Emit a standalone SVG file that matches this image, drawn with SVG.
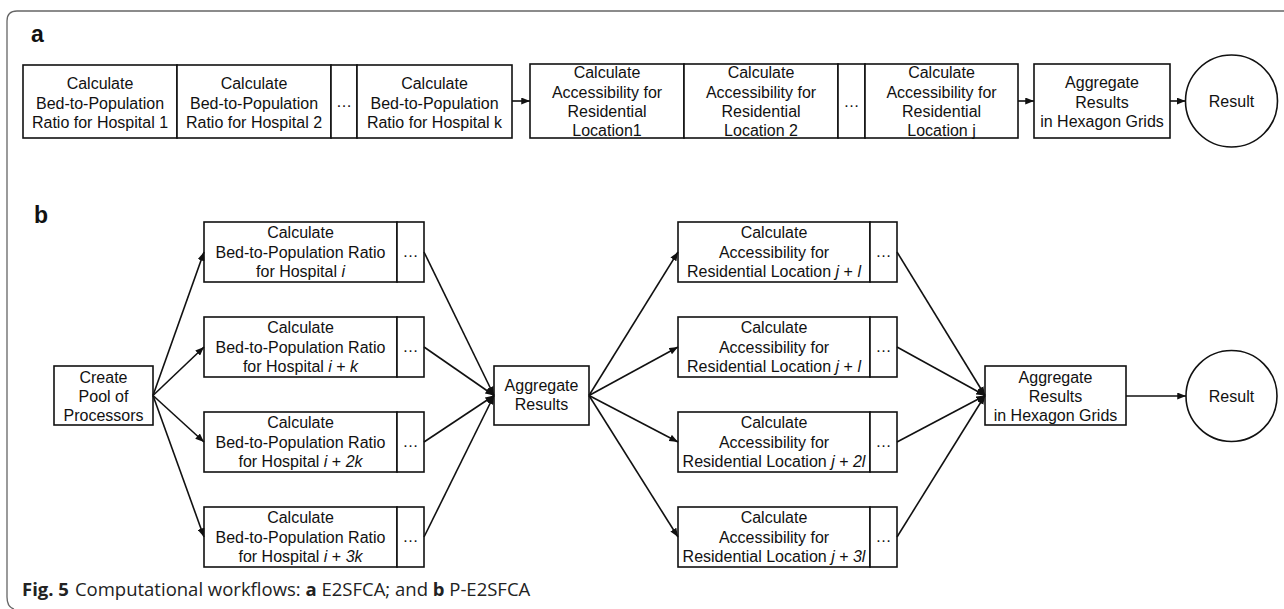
<svg xmlns="http://www.w3.org/2000/svg" width="1284" height="609" viewBox="0 0 1284 609">
<style>
.bx{fill:#fff;stroke:#111;stroke-width:1.6}
.t{font-family:"Liberation Sans",Arial,sans-serif;font-size:16px;fill:#111;text-anchor:middle}
.lbl{font-family:"Liberation Sans",Arial,sans-serif;font-size:23px;font-weight:bold;fill:#111}
.cap{font-family:"Open Sans","Noto Sans",sans-serif;font-size:18.5px;fill:#222}
.c{fill:none;stroke:#111;stroke-width:1.6}
.frame{fill:none;stroke:#666;stroke-width:1.3}
</style>
<defs>
<marker id="ah" viewBox="0 0 10 8" refX="10" refY="4" markerWidth="9" markerHeight="7" markerUnits="userSpaceOnUse" orient="auto">
<path d="M0,0 L10,4 L0,8 z" fill="#111"/>
</marker>
</defs>
<rect width="1284" height="609" fill="#fff"/>
<path class="frame" d="M1284,11 H17 Q7,11 7,21 V597 Q7,607 14,609"/>
<text class="lbl" x="31" y="42">a</text>
<text class="lbl" x="34" y="223">b</text>

<!-- part a -->
<g id="a-h1"><rect class="bx" x="23" y="65" width="154" height="73"/>
<text class="t" x="100" y="89">Calculate</text><text class="t" x="100" y="108.5">Bed-to-Population</text><text class="t" x="100" y="128">Ratio for Hospital 1</text></g>
<g id="a-h2"><rect class="bx" x="177" y="65" width="154" height="73"/>
<text class="t" x="254" y="89">Calculate</text><text class="t" x="254" y="108.5">Bed-to-Population</text><text class="t" x="254" y="128">Ratio for Hospital 2</text></g>
<g id="a-hdots"><rect class="bx" x="331" y="65" width="26" height="73"/><text class="t" x="344" y="107">…</text></g>
<g id="a-hk"><rect class="bx" x="357" y="65" width="155" height="73"/>
<text class="t" x="434.5" y="89">Calculate</text><text class="t" x="434.5" y="108.5">Bed-to-Population</text><text class="t" x="434.5" y="128">Ratio for Hospital k</text></g>

<g id="a-r1"><rect class="bx" x="530" y="64" width="154" height="74"/>
<text class="t" x="607" y="78">Calculate</text><text class="t" x="607" y="97.5">Accessibility for</text><text class="t" x="607" y="117">Residential</text><text class="t" x="607" y="136">Location1</text></g>
<g id="a-r2"><rect class="bx" x="684" y="64" width="154" height="74"/>
<text class="t" x="761" y="78">Calculate</text><text class="t" x="761" y="97.5">Accessibility for</text><text class="t" x="761" y="117">Residential</text><text class="t" x="761" y="136">Location 2</text></g>
<g id="a-rdots"><rect class="bx" x="838" y="64" width="27" height="74"/><text class="t" x="851.5" y="107">…</text></g>
<g id="a-rj"><rect class="bx" x="865" y="64" width="153" height="74"/>
<text class="t" x="941.5" y="78">Calculate</text><text class="t" x="941.5" y="97.5">Accessibility for</text><text class="t" x="941.5" y="117">Residential</text><text class="t" x="941.5" y="136">Location j</text></g>
<g id="a-agg"><rect class="bx" x="1034" y="64" width="136" height="74"/>
<text class="t" x="1102" y="88">Aggregate</text><text class="t" x="1102" y="107.5">Results</text><text class="t" x="1102" y="127">in Hexagon Grids</text></g>
<g id="a-res"><circle class="bx" cx="1231.5" cy="101" r="46"/><text class="t" x="1231.5" y="107">Result</text></g>

<!-- part b -->
<g id="b-pool"><rect class="bx" x="54" y="366" width="99" height="59"/>
<text class="t" x="103.5" y="383">Create</text><text class="t" x="103.5" y="402">Pool of</text><text class="t" x="103.5" y="420.5">Processors</text></g>

<g id="b-h1"><rect class="bx" x="204" y="222" width="193" height="60"/><rect class="bx" x="397" y="222" width="27" height="60"/>
<text class="t" x="300.5" y="238">Calculate</text><text class="t" x="300.5" y="257.5">Bed-to-Population Ratio</text><text class="t" x="300.5" y="277">for Hospital <tspan font-style="italic">i</tspan></text><text class="t" x="410.5" y="257">…</text></g>
<g id="b-h2"><rect class="bx" x="204" y="317" width="193" height="60"/><rect class="bx" x="397" y="317" width="27" height="60"/>
<text class="t" x="300.5" y="333">Calculate</text><text class="t" x="300.5" y="352.5">Bed-to-Population Ratio</text><text class="t" x="300.5" y="372">for Hospital <tspan font-style="italic">i</tspan> + <tspan font-style="italic">k</tspan></text><text class="t" x="410.5" y="352">…</text></g>
<g id="b-h3"><rect class="bx" x="204" y="412" width="193" height="60"/><rect class="bx" x="397" y="412" width="27" height="60"/>
<text class="t" x="300.5" y="428">Calculate</text><text class="t" x="300.5" y="447.5">Bed-to-Population Ratio</text><text class="t" x="300.5" y="467">for Hospital <tspan font-style="italic">i</tspan> + <tspan font-style="italic">2k</tspan></text><text class="t" x="410.5" y="447">…</text></g>
<g id="b-h4"><rect class="bx" x="204" y="507" width="193" height="60"/><rect class="bx" x="397" y="507" width="27" height="60"/>
<text class="t" x="300.5" y="523">Calculate</text><text class="t" x="300.5" y="542.5">Bed-to-Population Ratio</text><text class="t" x="300.5" y="562">for Hospital <tspan font-style="italic">i</tspan> + <tspan font-style="italic">3k</tspan></text><text class="t" x="410.5" y="542">…</text></g>

<g id="b-agg1"><rect class="bx" x="494" y="366" width="95" height="59"/>
<text class="t" x="541.5" y="391">Aggregate</text><text class="t" x="541.5" y="410">Results</text></g>

<g id="b-r1"><rect class="bx" x="678" y="222" width="192" height="60"/><rect class="bx" x="870" y="222" width="27" height="60"/>
<text class="t" x="774" y="238">Calculate</text><text class="t" x="774" y="257.5">Accessibility for</text><text class="t" x="774" y="277">Residential Location <tspan font-style="italic">j</tspan> + <tspan font-style="italic">l</tspan></text><text class="t" x="883.5" y="257">…</text></g>
<g id="b-r2"><rect class="bx" x="678" y="317" width="192" height="60"/><rect class="bx" x="870" y="317" width="27" height="60"/>
<text class="t" x="774" y="333">Calculate</text><text class="t" x="774" y="352.5">Accessibility for</text><text class="t" x="774" y="372">Residential Location <tspan font-style="italic">j</tspan> + <tspan font-style="italic">l</tspan></text><text class="t" x="883.5" y="352">…</text></g>
<g id="b-r3"><rect class="bx" x="678" y="412" width="192" height="60"/><rect class="bx" x="870" y="412" width="27" height="60"/>
<text class="t" x="774" y="428">Calculate</text><text class="t" x="774" y="447.5">Accessibility for</text><text class="t" x="774" y="467">Residential Location <tspan font-style="italic">j</tspan> + <tspan font-style="italic">2l</tspan></text><text class="t" x="883.5" y="447">…</text></g>
<g id="b-r4"><rect class="bx" x="678" y="507" width="192" height="60"/><rect class="bx" x="870" y="507" width="27" height="60"/>
<text class="t" x="774" y="523">Calculate</text><text class="t" x="774" y="542.5">Accessibility for</text><text class="t" x="774" y="562">Residential Location <tspan font-style="italic">j</tspan> + <tspan font-style="italic">3l</tspan></text><text class="t" x="883.5" y="542">…</text></g>

<g id="b-agg2"><rect class="bx" x="985" y="366" width="141" height="59"/>
<text class="t" x="1055.5" y="383">Aggregate</text><text class="t" x="1055.5" y="402">Results</text><text class="t" x="1055.5" y="421">in Hexagon Grids</text></g>
<g id="b-res"><circle class="bx" cx="1231.5" cy="396" r="45.5"/><text class="t" x="1231.5" y="402">Result</text></g>

<g id="connectors">
<line class="c" x1="512" y1="101" x2="530" y2="101" marker-end="url(#ah)"/>
<line class="c" x1="1018" y1="101" x2="1034" y2="101" marker-end="url(#ah)"/>
<line class="c" x1="1170" y1="101" x2="1185.5" y2="101" marker-end="url(#ah)"/>

<line class="c" x1="153" y1="395.5" x2="204" y2="252" marker-end="url(#ah)"/>
<line class="c" x1="153" y1="395.5" x2="204" y2="347" marker-end="url(#ah)"/>
<line class="c" x1="153" y1="395.5" x2="204" y2="442" marker-end="url(#ah)"/>
<line class="c" x1="153" y1="395.5" x2="204" y2="537" marker-end="url(#ah)"/>

<line class="c" x1="424" y1="252" x2="494" y2="395.5" marker-end="url(#ah)"/>
<line class="c" x1="424" y1="347" x2="494" y2="395.5" marker-end="url(#ah)"/>
<line class="c" x1="424" y1="442" x2="494" y2="395.5" marker-end="url(#ah)"/>
<line class="c" x1="424" y1="537" x2="494" y2="395.5" marker-end="url(#ah)"/>

<line class="c" x1="589" y1="395.5" x2="678" y2="252" marker-end="url(#ah)"/>
<line class="c" x1="589" y1="395.5" x2="678" y2="347" marker-end="url(#ah)"/>
<line class="c" x1="589" y1="395.5" x2="678" y2="442" marker-end="url(#ah)"/>
<line class="c" x1="589" y1="395.5" x2="678" y2="537" marker-end="url(#ah)"/>

<line class="c" x1="897" y1="252" x2="985" y2="395.5" marker-end="url(#ah)"/>
<line class="c" x1="897" y1="347" x2="985" y2="395.5" marker-end="url(#ah)"/>
<line class="c" x1="897" y1="442" x2="985" y2="395.5" marker-end="url(#ah)"/>
<line class="c" x1="897" y1="537" x2="985" y2="395.5" marker-end="url(#ah)"/>

<line class="c" x1="1126" y1="396" x2="1186" y2="396" marker-end="url(#ah)"/>
</g>

<text class="cap" x="22" y="596"><tspan font-weight="bold">Fig. 5</tspan><tspan dx="6">Computational workflows: </tspan><tspan font-weight="bold">a</tspan> E2SFCA; and <tspan font-weight="bold">b</tspan> P-E2SFCA</text>
</svg>
